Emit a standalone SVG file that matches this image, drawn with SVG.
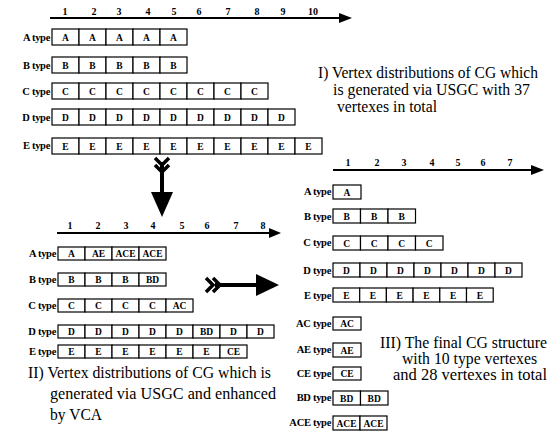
<svg xmlns="http://www.w3.org/2000/svg" width="553" height="434" viewBox="0 0 553 434" font-family="'Liberation Serif', 'Times New Roman', 'DejaVu Serif', serif">
<style>
.c{fill:#fff;stroke:#000;stroke-width:1.2}
text{font-family:'Liberation Serif','Times New Roman','DejaVu Serif',serif}
.ct{font-weight:bold;font-size:9.5px;text-anchor:middle}
.lb{font-weight:bold;font-size:10.5px;text-anchor:end;letter-spacing:-0.3px}
.nm{font-weight:bold;font-size:10px;text-anchor:middle}
.cap{font-size:16px}
.ax{stroke:#000;stroke-width:2}
.fl{fill:none;stroke:#000;stroke-width:3.5}
</style>
<rect width="553" height="434" fill="#fff"/>

<!-- Section I -->
<g id="axis1">
<line class="ax" x1="50" y1="18" x2="342" y2="18"/>
<polygon points="339,13 352,18 339,23"/>
<text class="nm" x="65" y="15">1</text><text class="nm" x="94" y="15">2</text><text class="nm" x="119" y="15">3</text><text class="nm" x="148" y="15">4</text><text class="nm" x="174" y="15">5</text><text class="nm" x="199" y="15">6</text><text class="nm" x="228" y="15">7</text><text class="nm" x="257" y="15">8</text><text class="nm" x="283" y="15">9</text><text class="nm" x="313" y="15">10</text>
</g>
<g id="I-A">
<text class="lb" x="50" y="41">A type</text>
<rect class="c" x="52" y="29" width="27" height="16"/><rect class="c" x="79" y="29" width="27" height="16"/><rect class="c" x="106" y="29" width="27" height="16"/><rect class="c" x="133" y="29" width="27" height="16"/><rect class="c" x="160" y="29" width="27" height="16"/>
<text class="ct" x="65.5" y="41">A</text><text class="ct" x="92.5" y="41">A</text><text class="ct" x="119.5" y="41">A</text><text class="ct" x="146.5" y="41">A</text><text class="ct" x="173.5" y="41">A</text>
</g>
<g id="I-B">
<text class="lb" x="50" y="69">B type</text>
<rect class="c" x="52" y="57" width="27" height="16"/><rect class="c" x="79" y="57" width="27" height="16"/><rect class="c" x="106" y="57" width="27" height="16"/><rect class="c" x="133" y="57" width="27" height="16"/><rect class="c" x="160" y="57" width="27" height="16"/>
<text class="ct" x="65.5" y="69">B</text><text class="ct" x="92.5" y="69">B</text><text class="ct" x="119.5" y="69">B</text><text class="ct" x="146.5" y="69">B</text><text class="ct" x="173.5" y="69">B</text>
</g>
<g id="I-C">
<text class="lb" x="50" y="95">C type</text>
<rect class="c" x="52" y="83" width="27" height="16"/><rect class="c" x="79" y="83" width="27" height="16"/><rect class="c" x="106" y="83" width="27" height="16"/><rect class="c" x="133" y="83" width="27" height="16"/><rect class="c" x="160" y="83" width="27" height="16"/><rect class="c" x="187" y="83" width="27" height="16"/><rect class="c" x="214" y="83" width="27" height="16"/><rect class="c" x="241" y="83" width="27" height="16"/>
<text class="ct" x="65.5" y="95">C</text><text class="ct" x="92.5" y="95">C</text><text class="ct" x="119.5" y="95">C</text><text class="ct" x="146.5" y="95">C</text><text class="ct" x="173.5" y="95">C</text><text class="ct" x="200.5" y="95">C</text><text class="ct" x="227.5" y="95">C</text><text class="ct" x="254.5" y="95">C</text>
</g>
<g id="I-D">
<text class="lb" x="50" y="121">D type</text>
<rect class="c" x="52" y="109" width="27" height="16"/><rect class="c" x="79" y="109" width="27" height="16"/><rect class="c" x="106" y="109" width="27" height="16"/><rect class="c" x="133" y="109" width="27" height="16"/><rect class="c" x="160" y="109" width="27" height="16"/><rect class="c" x="187" y="109" width="27" height="16"/><rect class="c" x="214" y="109" width="27" height="16"/><rect class="c" x="241" y="109" width="27" height="16"/><rect class="c" x="268" y="109" width="27" height="16"/>
<text class="ct" x="65.5" y="121">D</text><text class="ct" x="92.5" y="121">D</text><text class="ct" x="119.5" y="121">D</text><text class="ct" x="146.5" y="121">D</text><text class="ct" x="173.5" y="121">D</text><text class="ct" x="200.5" y="121">D</text><text class="ct" x="227.5" y="121">D</text><text class="ct" x="254.5" y="121">D</text><text class="ct" x="281.5" y="121">D</text>
</g>
<g id="I-E">
<text class="lb" x="50" y="149">E type</text>
<rect class="c" x="52" y="138" width="27" height="16"/><rect class="c" x="79" y="138" width="27" height="16"/><rect class="c" x="106" y="138" width="27" height="16"/><rect class="c" x="133" y="138" width="27" height="16"/><rect class="c" x="160" y="138" width="27" height="16"/><rect class="c" x="187" y="138" width="27" height="16"/><rect class="c" x="214" y="138" width="27" height="16"/><rect class="c" x="241" y="138" width="27" height="16"/><rect class="c" x="268" y="138" width="27" height="16"/><rect class="c" x="295" y="138" width="27" height="16"/>
<text class="ct" x="65.5" y="150">E</text><text class="ct" x="92.5" y="150">E</text><text class="ct" x="119.5" y="150">E</text><text class="ct" x="146.5" y="150">E</text><text class="ct" x="173.5" y="150">E</text><text class="ct" x="200.5" y="150">E</text><text class="ct" x="227.5" y="150">E</text><text class="ct" x="254.5" y="150">E</text><text class="ct" x="281.5" y="150">E</text><text class="ct" x="308.5" y="150">E</text>
</g>
<g id="caption-I" class="cap">
<text x="318" y="78" textLength="220" lengthAdjust="spacingAndGlyphs">I) Vertex distributions of CG which</text>
<text x="333" y="95" textLength="197" lengthAdjust="spacingAndGlyphs">is generated via USGC with 37</text>
<text x="337" y="112" textLength="100" lengthAdjust="spacingAndGlyphs">vertexes in total</text>
</g>

<!-- Section II -->
<g id="axis2">
<line class="ax" x1="57" y1="233" x2="272" y2="233"/>
<polygon points="269,228 281,233 269,238"/>
<text class="nm" x="70" y="229">1</text><text class="nm" x="98" y="229">2</text><text class="nm" x="126" y="229">3</text><text class="nm" x="153" y="229">4</text><text class="nm" x="182" y="229">5</text><text class="nm" x="207" y="229">6</text><text class="nm" x="236" y="229">7</text><text class="nm" x="263" y="229">8</text>
</g>
<g id="II-A">
<text class="lb" x="56" y="257">A type</text>
<rect class="c" x="58" y="247" width="27" height="13"/><rect class="c" x="85" y="247" width="27" height="13"/><rect class="c" x="112" y="247" width="27" height="13"/><rect class="c" x="139" y="247" width="27" height="13"/>
<text class="ct" x="71.5" y="257">A</text><text class="ct" x="98.5" y="257">AE</text><text class="ct" x="125.5" y="257">ACE</text><text class="ct" x="152.5" y="257">ACE</text>
</g>
<g id="II-B">
<text class="lb" x="56" y="283">B type</text>
<rect class="c" x="58" y="273" width="27" height="13"/><rect class="c" x="85" y="273" width="27" height="13"/><rect class="c" x="112" y="273" width="27" height="13"/><rect class="c" x="139" y="273" width="27" height="13"/>
<text class="ct" x="71.5" y="283">B</text><text class="ct" x="98.5" y="283">B</text><text class="ct" x="125.5" y="283">B</text><text class="ct" x="152.5" y="283">BD</text>
</g>
<g id="II-C">
<text class="lb" x="56" y="309">C type</text>
<rect class="c" x="58" y="299" width="27" height="13"/><rect class="c" x="85" y="299" width="27" height="13"/><rect class="c" x="112" y="299" width="27" height="13"/><rect class="c" x="139" y="299" width="27" height="13"/><rect class="c" x="166" y="299" width="27" height="13"/>
<text class="ct" x="71.5" y="309">C</text><text class="ct" x="98.5" y="309">C</text><text class="ct" x="125.5" y="309">C</text><text class="ct" x="152.5" y="309">C</text><text class="ct" x="179.5" y="309">AC</text>
</g>
<g id="II-D">
<text class="lb" x="56" y="335">D type</text>
<rect class="c" x="58" y="325" width="27" height="13"/><rect class="c" x="85" y="325" width="27" height="13"/><rect class="c" x="112" y="325" width="27" height="13"/><rect class="c" x="139" y="325" width="27" height="13"/><rect class="c" x="166" y="325" width="27" height="13"/><rect class="c" x="193" y="325" width="27" height="13"/><rect class="c" x="220" y="325" width="27" height="13"/><rect class="c" x="247" y="325" width="27" height="13"/>
<text class="ct" x="71.5" y="335">D</text><text class="ct" x="98.5" y="335">D</text><text class="ct" x="125.5" y="335">D</text><text class="ct" x="152.5" y="335">D</text><text class="ct" x="179.5" y="335">D</text><text class="ct" x="206.5" y="335">BD</text><text class="ct" x="233.5" y="335">D</text><text class="ct" x="260.5" y="335">D</text>
</g>
<g id="II-E">
<text class="lb" x="56" y="355">E type</text>
<rect class="c" x="58" y="345" width="27" height="13"/><rect class="c" x="85" y="345" width="27" height="13"/><rect class="c" x="112" y="345" width="27" height="13"/><rect class="c" x="139" y="345" width="27" height="13"/><rect class="c" x="166" y="345" width="27" height="13"/><rect class="c" x="193" y="345" width="27" height="13"/><rect class="c" x="220" y="345" width="27" height="13"/>
<text class="ct" x="71.5" y="355">E</text><text class="ct" x="98.5" y="355">E</text><text class="ct" x="125.5" y="355">E</text><text class="ct" x="152.5" y="355">E</text><text class="ct" x="179.5" y="355">E</text><text class="ct" x="206.5" y="355">E</text><text class="ct" x="233.5" y="355">CE</text>
</g>
<g id="caption-II" class="cap" style="font-size:17px">
<text x="28" y="378" textLength="243" lengthAdjust="spacingAndGlyphs">II) Vertex distributions of CG which is</text>
<text x="50" y="399" textLength="226" lengthAdjust="spacingAndGlyphs">generated via USGC and enhanced</text>
<text x="50" y="420" textLength="52" lengthAdjust="spacingAndGlyphs">by VCA</text>
</g>

<!-- Section III -->
<g id="axis3">
<line class="ax" x1="333" y1="170" x2="534" y2="170"/>
<polygon points="531,165 544,170 531,175"/>
<text class="nm" x="348" y="166">1</text><text class="nm" x="377" y="166">2</text><text class="nm" x="404" y="166">3</text><text class="nm" x="432" y="166">4</text><text class="nm" x="458" y="166">5</text><text class="nm" x="483" y="166">6</text><text class="nm" x="510" y="166">7</text>
</g>
<g id="III-A">
<text class="lb" x="331" y="195">A type</text>
<rect class="c" x="333" y="185" width="28" height="14"/>
<text class="ct" x="347" y="196">A</text>
</g>
<g id="III-B">
<text class="lb" x="331" y="220">B type</text>
<rect class="c" x="333" y="209" width="27.5" height="14"/><rect class="c" x="360.5" y="209" width="27.5" height="14"/><rect class="c" x="388" y="209" width="27.5" height="14"/>
<text class="ct" x="346.7" y="220">B</text><text class="ct" x="374.2" y="220">B</text><text class="ct" x="401.7" y="220">B</text>
</g>
<g id="III-C">
<text class="lb" x="331" y="246">C type</text>
<rect class="c" x="333" y="236" width="27.5" height="14"/><rect class="c" x="360.5" y="236" width="27.5" height="14"/><rect class="c" x="388" y="236" width="27.5" height="14"/><rect class="c" x="415.5" y="236" width="27.5" height="14"/>
<text class="ct" x="346.7" y="247">C</text><text class="ct" x="374.2" y="247">C</text><text class="ct" x="401.7" y="247">C</text><text class="ct" x="429.2" y="247">C</text>
</g>
<g id="III-D">
<text class="lb" x="331" y="274">D type</text>
<rect class="c" x="333" y="263" width="27" height="14"/><rect class="c" x="360" y="263" width="27" height="14"/><rect class="c" x="387" y="263" width="27" height="14"/><rect class="c" x="414" y="263" width="27" height="14"/><rect class="c" x="441" y="263" width="27" height="14"/><rect class="c" x="468" y="263" width="27" height="14"/><rect class="c" x="495" y="263" width="27" height="14"/>
<text class="ct" x="346.5" y="274">D</text><text class="ct" x="373.5" y="274">D</text><text class="ct" x="400.5" y="274">D</text><text class="ct" x="427.5" y="274">D</text><text class="ct" x="454.5" y="274">D</text><text class="ct" x="481.5" y="274">D</text><text class="ct" x="508.5" y="274">D</text>
</g>
<g id="III-E">
<text class="lb" x="331" y="299">E type</text>
<rect class="c" x="333" y="288" width="26.7" height="14"/><rect class="c" x="359.7" y="288" width="26.7" height="14"/><rect class="c" x="386.4" y="288" width="26.7" height="14"/><rect class="c" x="413.1" y="288" width="26.7" height="14"/><rect class="c" x="439.8" y="288" width="26.7" height="14"/><rect class="c" x="466.5" y="288" width="26.7" height="14"/>
<text class="ct" x="346.3" y="299">E</text><text class="ct" x="373" y="299">E</text><text class="ct" x="399.7" y="299">E</text><text class="ct" x="426.4" y="299">E</text><text class="ct" x="453.1" y="299">E</text><text class="ct" x="479.8" y="299">E</text>
</g>
<g id="III-AC">
<text class="lb" x="331" y="327">AC type</text>
<rect class="c" x="333" y="317" width="28" height="13"/>
<text class="ct" x="347" y="327">AC</text>
</g>
<g id="III-AE">
<text class="lb" x="331" y="353">AE type</text>
<rect class="c" x="333" y="343" width="28" height="14"/>
<text class="ct" x="347" y="354">AE</text>
</g>
<g id="III-CE">
<text class="lb" x="331" y="377">CE type</text>
<rect class="c" x="333" y="367" width="28" height="13"/>
<text class="ct" x="347" y="377">CE</text>
</g>
<g id="III-BD">
<text class="lb" x="331" y="401">BD type</text>
<rect class="c" x="333" y="391" width="27.5" height="14"/><rect class="c" x="360.5" y="391" width="27.5" height="14"/>
<text class="ct" x="346.7" y="402">BD</text><text class="ct" x="374.2" y="402">BD</text>
</g>
<g id="III-ACE">
<text class="lb" x="331" y="426">ACE type</text>
<rect class="c" x="333" y="416" width="27" height="14"/><rect class="c" x="360" y="416" width="27" height="14"/>
<text class="ct" x="346.5" y="427">ACE</text><text class="ct" x="373.5" y="427">ACE</text>
</g>
<g id="caption-III" class="cap">
<text x="380" y="348" textLength="167" lengthAdjust="spacingAndGlyphs">III) The final CG structure</text>
<text x="402" y="364" textLength="135" lengthAdjust="spacingAndGlyphs">with 10 type vertexes</text>
<text x="393" y="380" textLength="154" lengthAdjust="spacingAndGlyphs">and 28 vertexes in total</text>
</g>

<!-- Connectors -->
<g id="connectors">
<rect x="160" y="162" width="4" height="32"/>
<polygon points="151,192 173,192 162,217"/>
<path class="fl" d="M155,158 L162,165 L169,158 M155,165 L162,172 L169,165"/>
<rect x="215" y="283" width="44" height="4"/>
<polygon points="256,274 256,296 279,285"/>
<path class="fl" d="M206,278 L213,285 L206,292 M213,278 L220,285 L213,292"/>
</g>
</svg>
